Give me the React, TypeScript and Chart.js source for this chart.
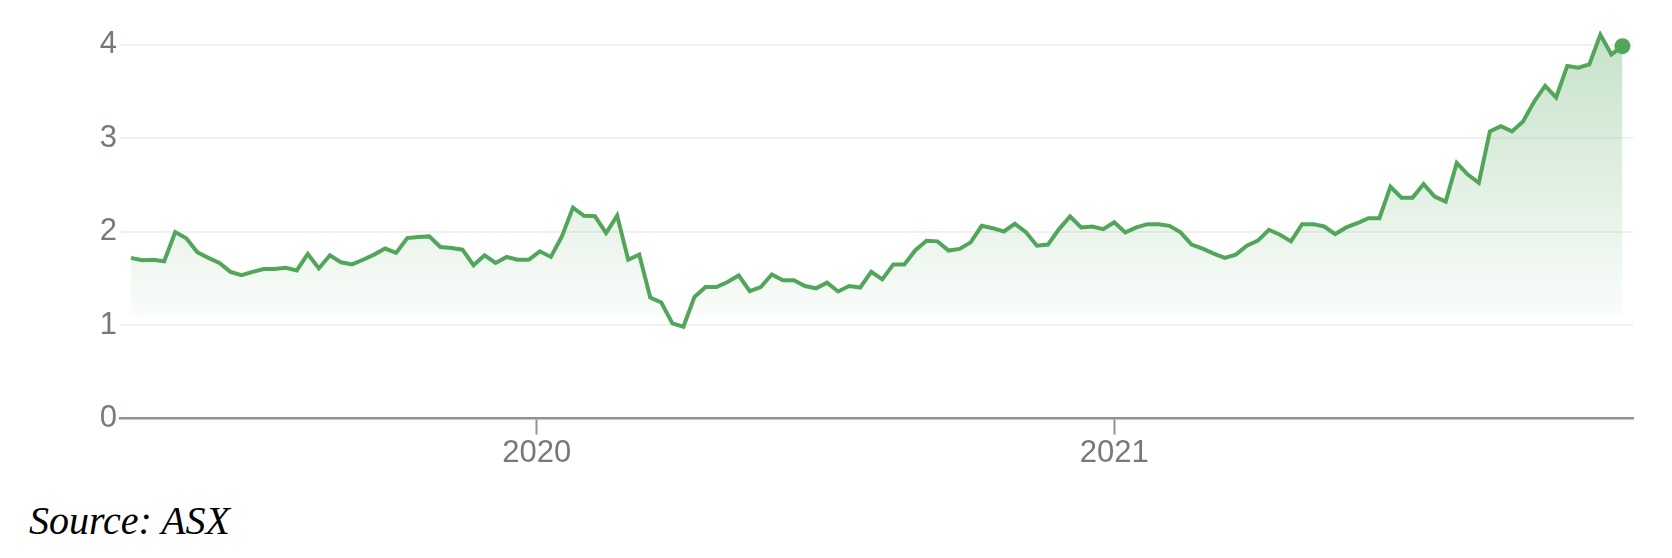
import React, { useEffect, useRef } from "react";
import { Chart, registerables } from "chart.js";

Chart.register(...registerables);

// ---- data ----
const startDate = "2019-04-19"; // first weekly observation
const stepDays = 7;
const prices = [
  1.72, 1.695, 1.7, 1.684, 1.996, 1.93, 1.78, 1.72, 1.666, 1.57,
  1.536, 1.57, 1.6, 1.6, 1.613, 1.585, 1.762, 1.607, 1.748, 1.673,
  1.65, 1.7, 1.755, 1.82, 1.773, 1.932, 1.943, 1.95, 1.836, 1.825,
  1.808, 1.642, 1.748, 1.666, 1.73, 1.7, 1.7, 1.79, 1.73, 1.95,
  2.258, 2.17, 2.165, 1.985, 2.173, 1.7, 1.755, 1.295, 1.242, 1.018,
  0.983, 1.302, 1.408, 1.408, 1.461, 1.532, 1.365, 1.408, 1.543, 1.48,
  1.48, 1.419, 1.394, 1.455, 1.36, 1.419, 1.402, 1.57, 1.49, 1.65,
  1.65, 1.802, 1.904, 1.897, 1.798, 1.816, 1.886, 2.063, 2.038, 2.003,
  2.085, 1.996, 1.85, 1.862, 2.028, 2.163, 2.045, 2.056, 2.028, 2.102,
  1.993, 2.046, 2.081, 2.081, 2.063, 1.993, 1.862, 1.819, 1.766, 1.72,
  1.755, 1.851, 1.904, 2.021, 1.968, 1.897, 2.081, 2.081, 2.056, 1.975,
  2.046, 2.091, 2.145, 2.145, 2.482, 2.365, 2.365, 2.51, 2.377, 2.322,
  2.737, 2.612, 2.524, 3.074, 3.13, 3.074, 3.18, 3.392, 3.562, 3.438,
  3.775, 3.757, 3.792, 4.11, 3.898, 3.987,
];
const yTicks = [0, 1, 2, 3, 4];
const xTickLabels = ["2020", "2021"];
const sourceText = "Source: ASX";
const fillBase = 1.1;

// ---- helpers ----
const DAY = 86400000;
const epoch = Date.UTC(2020, 0, 1);
const dayOffset = (iso: string) => (Date.parse(iso + "T00:00:00Z") - epoch) / DAY;
const xTickDays = xTickLabels.map((y) => dayOffset(`${y}-01-01`));
const firstDay = dayOffset(startDate);
const points = prices.map((v, i) => ({ x: firstDay + i * stepDays, y: v }));

const GREEN = "#52a65a";
const TEXT = "#75787c";
const AXIS = "#8e9297";
const FONT = "'Liberation Sans', Arial, sans-serif";

export default function App() {
  const ref = useRef<HTMLCanvasElement | null>(null);

  useEffect(() => {
    const canvas = ref.current;
    if (!canvas) return;
    const chart = new Chart(canvas, {
      type: "line",
      data: {
        datasets: [
          {
            data: points,
            borderColor: GREEN,
            borderWidth: 4,
            tension: 0,
            borderJoinStyle: "miter",
            pointRadius: (ctx: any) => (ctx.dataIndex === prices.length - 1 ? 8 : 0),
            pointHoverRadius: 0,
            pointBackgroundColor: GREEN,
            pointBorderWidth: 0,
            fill: { value: fillBase },
            backgroundColor: (ctx: any) => {
              const c = ctx.chart;
              if (!c.chartArea) return "rgba(0,0,0,0)";
              const ys = c.scales.y;
              const g = c.ctx.createLinearGradient(
                0,
                ys.getPixelForValue(4.15),
                0,
                ys.getPixelForValue(fillBase)
              );
              g.addColorStop(0, "rgba(82,166,90,0.33)");
              g.addColorStop(1, "rgba(82,166,90,0.03)");
              return g;
            },
          },
        ],
      },
      options: {
        animation: false,
        responsive: false,
        devicePixelRatio: 1,
        events: [],
        layout: { padding: { left: 0, right: 38.5, top: 18.5, bottom: 0 } },
        plugins: { legend: { display: false }, tooltip: { enabled: false } },
        scales: {
          x: {
            type: "linear",
            min: -264,
            max: 695,
            afterBuildTicks: (s: any) => {
              s.ticks = xTickDays.map((v) => ({ value: v }));
            },
            afterFit: (s: any) => {
              s.height = 61.5;
            },
            grid: {
              drawOnChartArea: false,
              drawTicks: true,
              tickLength: 16,
              tickColor: AXIS,
              tickWidth: 2,
            },
            border: { display: true, color: AXIS, width: 2.5 },
            ticks: {
              autoSkip: false,
              maxRotation: 0,
              padding: 0,
              color: TEXT,
              font: { family: FONT, size: 31 },
              callback: (v: any) => {
                const i = xTickDays.indexOf(Number(v));
                return i >= 0 ? xTickLabels[i] : "";
              },
            },
          },
          y: {
            min: 0,
            max: 4.25,
            afterBuildTicks: (s: any) => {
              s.ticks = yTicks.map((v) => ({ value: v }));
            },
            afterFit: (s: any) => {
              s.width = 120;
            },
            grid: {
              drawTicks: false,
              lineWidth: 2,
              color: (ctx: any) =>
                ctx.tick && ctx.tick.value === 0 ? "rgba(0,0,0,0)" : "#f1f1f1",
            },
            border: { display: false },
            ticks: {
              padding: 3,
              color: TEXT,
              font: { family: FONT, size: 31 },
            },
          },
        },
      },
    } as any);
    return () => chart.destroy();
  }, []);

  return (
    <div
      style={{
        position: "absolute",
        left: 0,
        top: 0,
        width: 1672,
        height: 558,
        background: "#ffffff",
        overflow: "hidden",
      }}
    >
      <canvas
        ref={ref}
        width={1672}
        height={480}
        style={{ position: "absolute", left: 0, top: 0, width: 1672, height: 480 }}
      />
      <div
        style={{
          position: "absolute",
          left: 29,
          top: 501,
          fontFamily: "'Liberation Serif', 'Times New Roman', serif",
          fontStyle: "italic",
          fontSize: 40,
          lineHeight: 1,
          color: "#000",
          whiteSpace: "nowrap",
        }}
      >
        {sourceText}
      </div>
    </div>
  );
}
